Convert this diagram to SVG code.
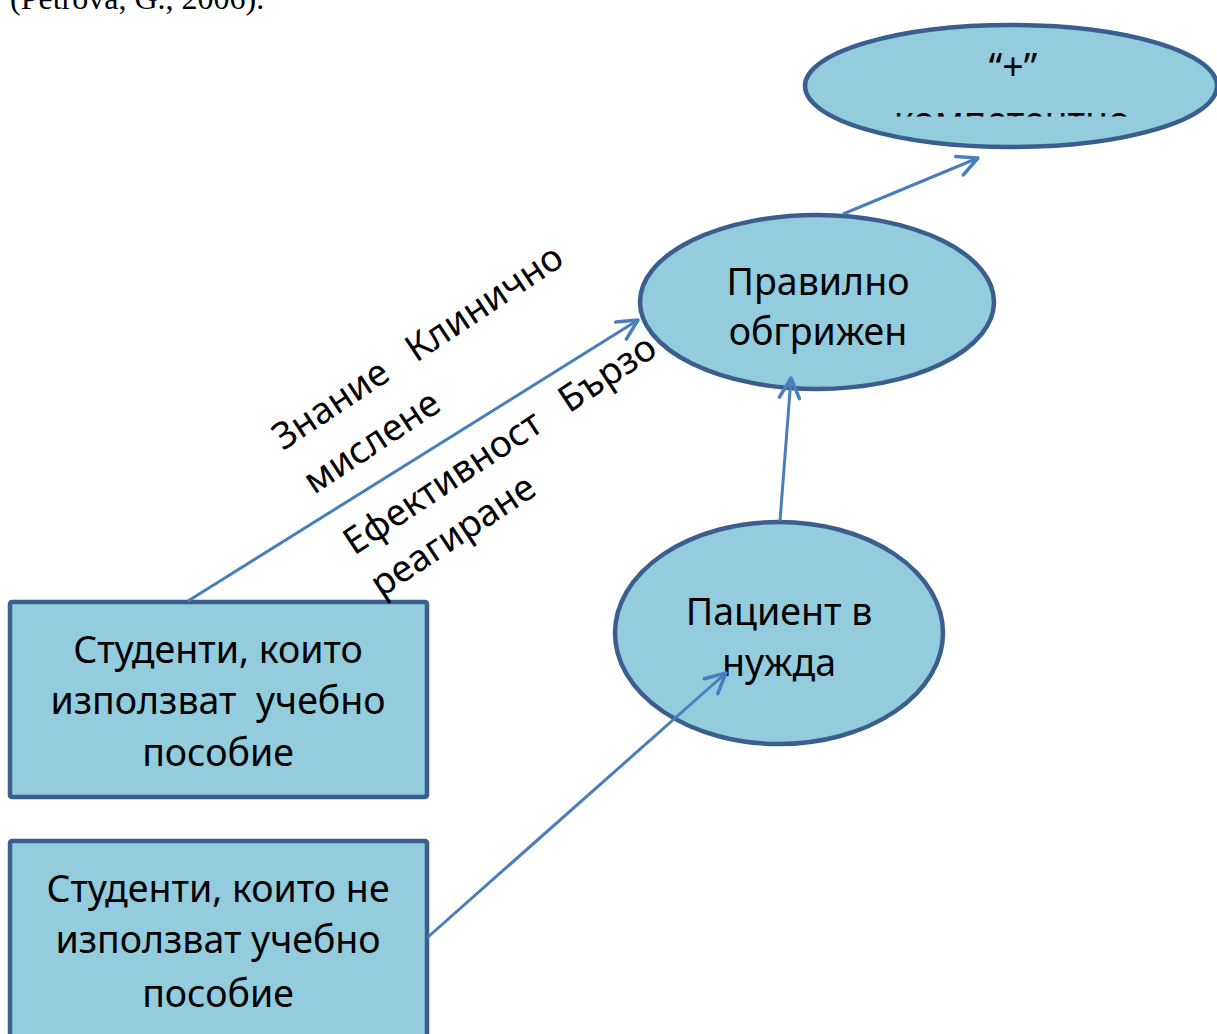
<svg xmlns="http://www.w3.org/2000/svg" width="1217" height="1034" viewBox="0 0 1217 1034">
  <defs>
    <style>
      .node { fill: #93CDDD; stroke: #3A5F8F; stroke-width: 4.5; }
      .lbl { font-family: "Noto Sans", "Open Sans", sans-serif; font-size: 37.5px; fill: #000; text-anchor: middle; }
      .rot { font-family: "Noto Sans", "Open Sans", sans-serif; font-size: 37px; fill: #000; white-space: pre; }
      .cite { font-family: "Liberation Serif", serif; font-size: 32px; fill: #000; }
      .edge { fill: none; stroke: #4A7EBB; stroke-width: 3; }
    </style>
    <marker id="arrow" markerUnits="userSpaceOnUse" markerWidth="24" markerHeight="24" refX="20" refY="10" orient="auto" viewBox="-2 -2 24 24">
      <path d="M0,0 L20,10 L0,20" fill="none" stroke="#4A7EBB" stroke-width="3.5" stroke-linecap="round" stroke-linejoin="round"/>
    </marker>
    <clipPath id="cut">
      <rect x="800" y="100" width="417" height="16.5"/>
    </clipPath>
  </defs>

  <text class="cite" x="10" y="9">(Petrova, G., 2006).</text>

  <g id="node-competent">
    <ellipse class="node" cx="1011" cy="86" rx="206" ry="61"/>
    <text class="lbl" x="1013" y="80">“+”</text>
    <text class="lbl" x="1012" y="134" clip-path="url(#cut)">компетентно</text>
  </g>

  <g id="node-cared">
    <ellipse class="node" cx="817" cy="302" rx="177" ry="87"/>
    <text class="lbl" x="818" y="295">Правилно</text>
    <text class="lbl" x="818" y="345">обгрижен</text>
  </g>

  <g id="node-patient">
    <ellipse class="node" cx="779" cy="633" rx="164" ry="111"/>
    <text class="lbl" x="779" y="625">Пациент в</text>
    <text class="lbl" x="779" y="676">нужда</text>
  </g>

  <g id="node-students-use">
    <rect class="node" x="10" y="602" width="417" height="195" rx="2"/>
    <text class="lbl" x="218" y="663">Студенти, които</text>
    <text class="lbl" x="218" y="714" style="white-space:pre">използват  учебно</text>
    <text class="lbl" x="218" y="766">пособие</text>
  </g>

  <g id="node-students-notuse">
    <rect class="node" x="10" y="841" width="417" height="200" rx="2"/>
    <text class="lbl" x="218" y="902">Студенти, които не</text>
    <text class="lbl" x="218" y="953">използват учебно</text>
    <text class="lbl" x="218" y="1007">пособие</text>
  </g>

  <g id="connectors">
    <line class="edge" x1="188" y1="601" x2="638" y2="320" marker-end="url(#arrow)"/>
    <line class="edge" x1="780" y1="521" x2="791" y2="378" marker-end="url(#arrow)"/>
    <line class="edge" x1="843" y1="214" x2="978" y2="158" marker-end="url(#arrow)"/>
    <line class="edge" x1="428" y1="937" x2="726" y2="673" marker-end="url(#arrow)"/>
  </g>

  <g id="edge-labels">
    <text class="rot" transform="translate(283,451) rotate(-33.5)">Знание   Клинично</text>
    <text class="rot" transform="translate(314,495) rotate(-33.5)">мислене</text>
    <text class="rot" transform="translate(354,556) rotate(-33.5)">Ефективност   Бързо</text>
    <text class="rot" transform="translate(381,598) rotate(-33.5)">реагиране</text>
  </g>
</svg>
